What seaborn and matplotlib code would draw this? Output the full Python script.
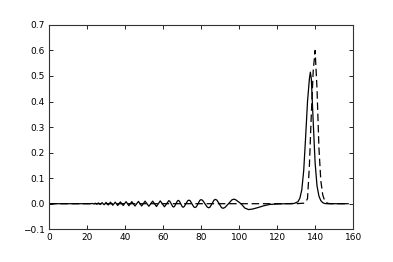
import matplotlib
matplotlib.use("Agg")
import matplotlib.pyplot as plt
import seaborn as sns
import pandas as pd

# Curva simulada (linea continua): tren de oscilaciones + pulso principal
x_sim = [0, 10, 20, 22, 22.7, 23.5, 24.3, 25.1, 26, 26.9, 27.9, 28.9, 30, 31.1,
         32.3, 33.5, 34.8, 36.1, 37.5, 39, 40.5, 42, 43.5, 45.2, 47, 48.7,
         50.5, 52.5, 54.5, 56.5, 58.5, 60.7,
         63, 63.5, 64.25, 65, 65.5, 66, 66.75, 67.5, 68, 68.5, 69.25, 70, 70.5,
         71.1, 72, 72.9, 73.5, 74.2, 75.15, 76.1, 76.8,
         77.5, 78.4, 79.3, 80, 80.8, 82, 83.2, 84, 84.7, 85.75, 86.8, 87.5,
         88.3, 89.5, 90.7, 91.5, 92.5, 94.4, 96.2, 97.3, 98.3,
         99, 101, 103, 105, 107, 110, 113,
         116, 120, 125, 129, 131, 132, 133, 134, 135, 136, 137, 137.5, 138,
         139, 140, 141, 142, 143, 144, 145, 146, 148, 157.5]
y_sim = [0, 0, 0, 0, 0.001, -0.001, 0.002, -0.002, 0.003, -0.003, 0.004, -0.004,
         0.005, -0.005, 0.006, -0.006, 0.006, -0.007, 0.007, -0.007, 0.008,
         -0.008, 0.008, -0.009, 0.009, -0.009, 0.010, -0.010, 0.010, -0.011,
         0.011, -0.012,
         0.012, 0.0097, 0.0, -0.0105, -0.013, -0.0105, 0.0, 0.0105, 0.013,
         0.0105, 0.0, -0.011, -0.014,
         -0.011, 0.0, 0.011, 0.014, 0.012, 0.0, -0.012, -0.015,
         -0.012, 0.0, 0.013, 0.016, 0.013, 0.0, -0.013, -0.016, -0.013, 0.0,
         0.014, 0.017, 0.014, 0.0, -0.015, -0.018, -0.015, 0.0, 0.015, 0.018,
         0.015,
         0.011, 0.0, -0.017, -0.023, -0.021, -0.015, -0.008,
         -0.003, -0.001, 0.0, 0.001, 0.008, 0.022, 0.055, 0.13, 0.26, 0.40,
         0.49, 0.515, 0.49, 0.32, 0.16, 0.07, 0.03, 0.012, 0.004, 0.001, 0.0,
         0.0, 0.0]

# Solucion exacta (linea discontinua)
x_exacta = [0, 130, 134, 135, 136, 137, 138, 139, 140, 141, 142, 143, 144, 145,
            146, 147, 148, 157.5]
y_exacta = [0, 0, 0.002, 0.006, 0.02, 0.15, 0.35, 0.52, 0.60, 0.45, 0.22, 0.09,
            0.035, 0.012, 0.004, 0.001, 0.0, 0.0]

x_ticks = [0, 20, 40, 60, 80, 100, 120, 140, 160]
y_ticks = [-0.1, 0.0, 0.1, 0.2, 0.3, 0.4, 0.5, 0.6, 0.7]

sns.set_style("ticks")
plt.rcParams["font.family"] = ["DejaVu Sans"]
plt.rcParams["font.size"] = 6.5

df_sim = pd.DataFrame({"x": x_sim, "y": y_sim})
df_exacta = pd.DataFrame({"x": x_exacta, "y": y_exacta})

fig = plt.figure(figsize=(3.93, 2.62), dpi=100)
ax = fig.add_axes([0.125, 0.125, 0.7735, 0.78])

sns.lineplot(data=df_sim, x="x", y="y", color="black", linewidth=0.9,
             estimator=None, sort=False, ax=ax)
sns.lineplot(data=df_exacta, x="x", y="y", color="black", linewidth=0.9,
             linestyle=(0, (6, 3)), estimator=None, sort=False, ax=ax)

ax.set_xlim(0, 160)
ax.set_ylim(-0.1, 0.7)
ax.set_xticks(x_ticks)
ax.set_yticks(y_ticks)
ax.set_xlabel("")
ax.set_ylabel("")
ax.tick_params(direction="in", top=True, right=True, length=3, width=0.6,
               pad=3, labelsize=6.5, colors="black")
for s in ax.spines.values():
    s.set_linewidth(0.8)
    s.set_color("#333333")

fig.savefig("out.png", dpi=100)
